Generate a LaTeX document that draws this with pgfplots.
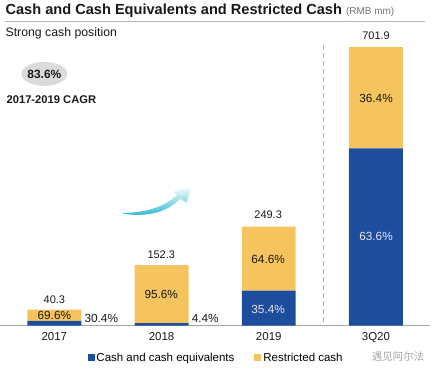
\documentclass[border=0pt]{standalone}
\usepackage{fontspec}
\setmainfont{Liberation Sans}
\newfontfamily\cjk{Noto Sans CJK SC}
\usepackage{pgfplots}
\pgfplotsset{compat=1.18}
\definecolor{cblue}{RGB}{31,77,158}
\definecolor{cyel}{RGB}{246,196,94}
\definecolor{arrowc}{RGB}{38,180,206}
\definecolor{txt}{RGB}{25,25,25}
\begin{document}
\begin{tikzpicture}[x=1pt,y=1pt]
\path (0,0) rectangle (436,374);
\begin{axis}[at={(0pt,48pt)}, anchor=south west, scale only axis,
  width=430pt, height=296pt,
  xmin=-0.503, xmax=3.504, ymin=0, ymax=745,
  ybar stacked, bar width=54pt,
  axis x line*=bottom, axis y line=none,
  x axis line style={gray!70, -, line width=0.8pt},
  xtick={0,1,2,3}, xticklabels={2017,2018,2019,3Q20},
  major tick length=0pt,
  xticklabel style={font=\fontsize{11.5}{13}\selectfont, text=txt, yshift=-3pt},
  clip=false,
  legend columns=2,
  legend style={draw=none, fill=none, at={(0.502,-0.108)}, anchor=center,
    font=\fontsize{11.5}{13}\selectfont,
    /tikz/every even column/.append style={column sep=18pt}},
  legend image code/.code={\fill[#1] (0pt,-3.5pt) rectangle (7pt,3.5pt);},
]
\addplot[fill=cblue, draw=none] coordinates {(0,12.25) (1,6.70) (2,88.25) (3,446.4)};
\addplot[fill=cyel, draw=none] coordinates {(0,28.05) (1,145.6) (2,161.05) (3,255.5)};
\legend{Cash and cash equivalents, Restricted cash}
\end{axis}
\begin{scope}[shift={(0,374)}, yscale=-1]
  % title
  \node[anchor=base west, inner sep=0pt, text=txt] at (5,14.5)
    {\fontsize{14.6}{17}\selectfont\bfseries Cash and Cash Equivalents and Restricted Cash\ \fontsize{10}{11}\selectfont\mdseries\textcolor{gray!90!black}{(RMB mm)}};
  \draw[gray!60, line width=1pt] (5,21.5) -- (425,21.5);
  \node[anchor=base west, inner sep=0pt, text=txt] at (5,36.5)
    {\fontsize{12.3}{14}\selectfont Strong cash position};
  \fill[gray!28] (44,74) ellipse [x radius=23, y radius=12];
  \node[text=txt] at (44,74) {\fontsize{12}{13}\selectfont\bfseries 83.6\%};
  \node[anchor=base west, inner sep=0pt, text=txt] at (6,104)
    {\fontsize{11.2}{13}\selectfont\bfseries 2017-2019 CAGR};
  % dashed separator
  \draw[gray!60, dashed, line width=0.8pt, dash pattern=on 5pt off 3pt] (323,45) -- (323,326);
  % totals
  \begin{scope}[every node/.style={font=\fontsize{11}{13}\selectfont, text=txt}]
    \node at (54,300) {40.3};
    \node at (161,255) {152.3};
    \node at (268,215) {249.3};
    \node at (376,36) {701.9};
  \end{scope}
  \begin{scope}[every node/.style={font=\fontsize{11.8}{13}\selectfont, text=txt}]
    \node at (54,316) {69.6\%};
    \node at (101,319) {30.4\%};
    \node at (161,295) {95.6\%};
    \node at (205,319) {4.4\%};
    \node at (268,260) {64.6\%};
    \node at (376,99) {36.4\%};
    \node[text=white!90!black] at (268,310) {35.4\%};
    \node[text=white!90!black] at (376,237) {63.6\%};
  \end{scope}
  % arrow
  \shade[left color=white, right color=arrowc, shading angle=0]
    (123,214) .. controls (150,218) and (168,211) .. (180,199)
    -- (186,203) -- (192,186) -- (173,192) -- (177,195)
    .. controls (165,206) and (148,213) .. (123,213) -- cycle;
  % watermark
  \node[text=gray!70, font=\cjk\fontsize{10.5}{12}\selectfont] at (398,357) {遇见阿尔法};
\end{scope}
\end{tikzpicture}
\end{document}
